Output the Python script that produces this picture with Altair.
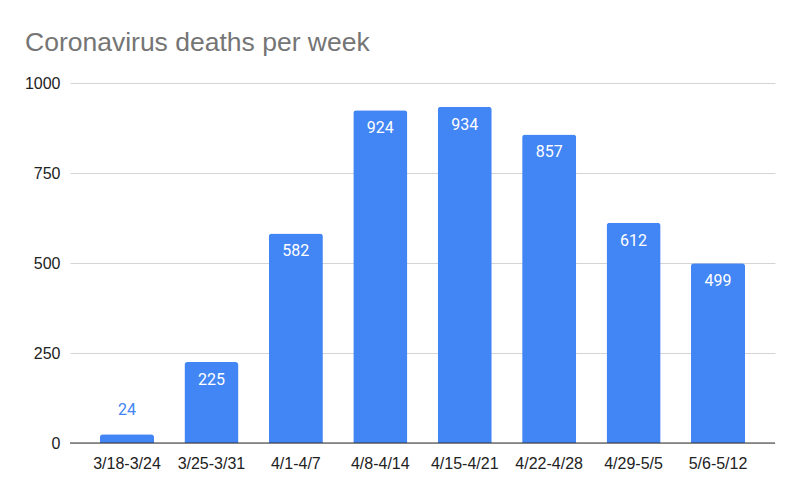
import altair as alt
import pandas as pd

weeks = ["3/18-3/24", "3/25-3/31", "4/1-4/7", "4/8-4/14",
         "4/15-4/21", "4/22-4/28", "4/29-5/5", "5/6-5/12"]
deaths = [24, 225, 582, 924, 934, 857, 612, 499]

df = pd.DataFrame({"week": weeks, "deaths": deaths})
df["inside"] = df["deaths"] >= 100

BLUE = "#4285F4"
FONT = "Liberation Sans"

x = alt.X("week:N", sort=weeks, title=None,
          scale=alt.Scale(paddingInner=0.36, paddingOuter=0.355),
          axis=alt.Axis(labelAngle=0, domain=False, ticks=False, labelPadding=12,
                        labelFont=FONT, labelFontSize=16, labelColor="#222222"))
y = alt.Y("deaths:Q", title=None,
          scale=alt.Scale(domain=[0, 1000], nice=False),
          axis=alt.Axis(values=[0, 250, 500, 750, 1000], format="d", domain=False, ticks=False,
                        labelPadding=10, labelFont=FONT, labelFontSize=16,
                        labelColor="#222222", gridColor="#d4d4d4", gridWidth=1))

base = alt.Chart(df)

bars = base.mark_bar(color=BLUE, cornerRadiusTopLeft=3, cornerRadiusTopRight=3).encode(x=x, y=y)

zero = alt.Chart(pd.DataFrame({"z": [0]})).mark_rule(color="#333333", strokeWidth=1.2).encode(
    y=alt.Y("z:Q", scale=alt.Scale(domain=[0, 1000], nice=False)))

inside = base.transform_filter("datum.inside").mark_text(
    color="white", font="Roboto", fontSize=16, baseline="alphabetic", dy=23
).encode(x=alt.X("week:N", sort=weeks), y="deaths:Q", text="deaths:Q")

outside = base.transform_filter("!datum.inside").mark_text(
    color=BLUE, font="Roboto", fontSize=16, baseline="alphabetic", dy=-19
).encode(x=alt.X("week:N", sort=weeks), y="deaths:Q", text="deaths:Q")

chart = alt.layer(bars, zero, inside, outside).properties(
    width=705, height=360,
    title=alt.TitleParams("Coronavirus deaths per week", anchor="start", frame="group",
                          font=FONT, fontSize=26.5, fontWeight="normal", color="#757575",
                          dx=-45, offset=19),
    autosize=alt.AutoSizeParams(type="none"),
    padding={"left": 62, "top": 75, "right": 17, "bottom": 36},
).configure_view(stroke=None)

chart.save("out.html", embed_options={"renderer": "svg", "actions": False})
